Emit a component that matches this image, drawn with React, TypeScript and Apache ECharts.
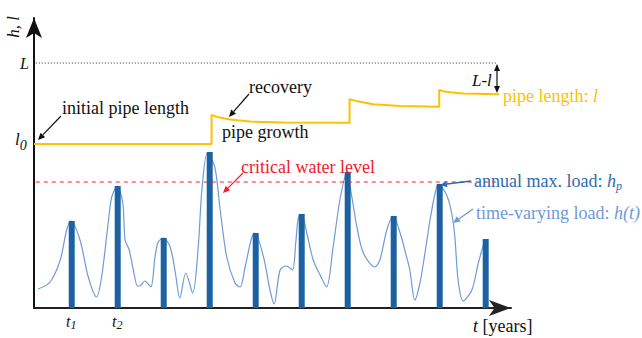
import React, { useEffect, useRef } from "react";
import * as echarts from "echarts";

// Time in years (46 px per year), heights in plot units (1 unit per px).
const yearT = [0.82, 1.82, 2.82, 3.82, 4.82, 5.82, 6.82, 7.82, 8.82, 9.82];
const annualMax = [87, 122, 70, 156, 75, 94, 136, 92, 124, 69];

// Continuous time-varying load h(t)
const loadT = [
  0.09, 0.35, 0.57, 0.71, 0.8, 1.0, 1.18, 1.36, 1.47, 1.62, 1.69, 1.81, 1.93, 1.98, 2.07, 2.16, 2.25, 2.3,
  2.41, 2.54, 2.63, 2.7, 2.81, 2.96, 3.07, 3.17, 3.3, 3.45, 3.57, 3.65, 3.77, 3.93, 4.04, 4.19, 4.37, 4.48,
  4.59, 4.73, 4.8, 4.99, 5.13, 5.22, 5.35, 5.49, 5.62, 5.69, 5.75, 5.82, 5.93, 6.07, 6.22, 6.36, 6.5, 6.65,
  6.8, 6.91, 7.02, 7.16, 7.41, 7.52, 7.67, 7.81, 7.96, 8.1, 8.17, 8.28, 8.39, 8.5, 8.61, 8.72, 8.79, 8.97,
  9.08, 9.15, 9.22, 9.33, 9.52, 9.66, 9.8,
];
const loadH = [
  19, 26, 48, 78, 87, 68, 31, 11, 31, 88, 111, 122, 105, 68, 58, 38, 22, 22,
  27, 21, 51, 66, 70, 61, 36, 10, 35, 15, 61, 118, 155, 141, 101, 51, 25, 21,
  41, 70, 75, 51, 18, 4, 38, 42, 38, 65, 91, 93, 75, 48, 33, 21, 60, 108,
  135, 111, 81, 55, 41, 48, 78, 92, 75, 51, 38, 8, 25, 55, 88, 115, 124, 113,
  95, 71, 28, 7, 18, 45, 68,
];

// Pipe length l(t): growth steps followed by recovery
const pipeT = [
  0, 3.86, 3.86, 3.95, 4.04, 4.26, 4.7, 5.41, 6.86, 6.86, 6.97, 7.09, 7.37, 7.96, 8.81, 8.81, 8.92, 9.04, 9.33, 10.11,
];
const pipeL = [
  164, 164, 193, 191.6, 190.5, 188.6, 186.4, 185.4, 185.2, 208.7, 207.4, 206.2, 203.8, 202, 201.3, 218, 216.6, 215.7, 214.4, 213.8,
];

const criticalLevel = 126;
const maxLength = 245;
const refLineT = [0.04, 10.07];

const SERIF = "'Liberation Serif', 'DejaVu Serif', serif";

type Part = { t: string; size: number; italic?: boolean; dy?: number };

const measureCtx = (() => {
  const c = document.createElement("canvas");
  return c.getContext("2d") as CanvasRenderingContext2D;
})();

function fontOf(p: Part) {
  return `${p.italic ? "italic " : ""}${p.size}px ${SERIF}`;
}

// A run of text pieces laid out left to right (regular, italic, subscripts)
function textRun(x: number, y: number, color: string, parts: Part[]) {
  const out: any[] = [];
  let cx = x;
  for (const p of parts) {
    const font = fontOf(p);
    out.push({
      type: "text",
      z: 60,
      x: cx,
      y: y + (p.dy || 0),
      style: { text: p.t, fill: color, font, align: "left", verticalAlign: "middle" },
    });
    measureCtx.font = font;
    cx += measureCtx.measureText(p.t).width;
  }
  return out;
}

function arrow(x1: number, y1: number, x2: number, y2: number, color: string, width = 1.2, head = 7, spread = 3.2) {
  const a = Math.atan2(y2 - y1, x2 - x1);
  const bx = x2 - head * Math.cos(a);
  const by = y2 - head * Math.sin(a);
  const px = -Math.sin(a) * spread;
  const py = Math.cos(a) * spread;
  return [
    { type: "line", z: 50, shape: { x1, y1, x2: bx, y2: by }, style: { stroke: color, lineWidth: width } },
    {
      type: "polygon",
      z: 50,
      shape: { points: [[x2, y2], [bx + px, by + py], [bx - px, by - py]] },
      style: { fill: color },
    },
  ];
}

export default function App() {
  const ref = useRef<HTMLDivElement>(null);

  useEffect(() => {
    if (!ref.current) return;
    const chart = echarts.init(ref.current, undefined, { renderer: "svg" });

    const ink = "#111";
    const yellow = "#FFC000";
    const red = "#F0202A";
    const darkBlue = "#1C62A2";
    const lightBlue = "#6E9AD8";
    const textBlue = "#2E6DAE";
    const S = 18;

    const graphic: any[] = [
      {
        type: "text",
        z: 60,
        x: 13,
        y: 27,
        rotation: Math.PI / 2,
        style: { text: "h, l", fill: ink, font: `italic 17px ${SERIF}`, align: "center", verticalAlign: "middle" },
      },
      ...textRun(20, 63, ink, [{ t: "L", size: 16, italic: true }]),
      ...textRun(15, 139, ink, [{ t: "l", size: 17, italic: true }, { t: "0", size: 14, italic: true, dy: 6 }]),
      ...textRun(66, 321, ink, [{ t: "t", size: 16, italic: true }, { t: "1", size: 12, italic: true, dy: 4 }]),
      ...textRun(112, 321, ink, [{ t: "t", size: 16, italic: true }, { t: "2", size: 12, italic: true, dy: 4 }]),
      ...textRun(473, 326, ink, [{ t: "t ", size: S, italic: true }, { t: "[years]", size: S }]),
      ...textRun(62, 108, ink, [{ t: "initial pipe length", size: S }]),
      ...textRun(249, 87, ink, [{ t: "recovery", size: S }]),
      ...textRun(222, 132, ink, [{ t: "pipe growth", size: S }]),
      ...textRun(241, 167, red, [{ t: "critical water level", size: S }]),
      ...textRun(503, 96, yellow, [{ t: "pipe length: ", size: S }, { t: "l", size: S, italic: true }]),
      ...textRun(472, 80, ink, [{ t: "L-l", size: 17, italic: true }]),
      ...textRun(474, 181, textBlue, [
        { t: "annual max. load: ", size: S },
        { t: "h", size: S, italic: true },
        { t: "p", size: 12, italic: true, dy: 5 },
      ]),
      ...textRun(476, 213, lightBlue, [{ t: "time-varying load: ", size: S }, { t: "h(t)", size: S, italic: true }]),
      ...arrow(61, 116, 38, 140, ink),
      ...arrow(249, 94, 229, 117, ink),
      ...arrow(243, 173, 223, 193, red),
      ...arrow(471, 181, 440, 185, textBlue, 1.5),
      ...arrow(473, 209, 453, 223, lightBlue, 1.3),
      ...arrow(497, 79, 497, 64, ink, 1.2, 7, 3),
      ...arrow(497, 79, 497, 93, ink, 1.2, 7, 3),
    ];

    chart.setOption({
      animation: false,
      grid: { left: 34, top: 18, width: 477, height: 290, containLabel: false },
      xAxis: {
        type: "value",
        min: 0,
        max: 10.37,
        axisLine: {
          show: true,
          onZero: false,
          lineStyle: { color: "#222", width: 2 },
          symbol: ["none", "arrow"],
          symbolSize: [12, 22],
        },
        axisTick: { show: false },
        axisLabel: { show: false },
        splitLine: { show: false },
      },
      yAxis: {
        type: "value",
        min: 0,
        max: 290,
        axisLine: {
          show: true,
          onZero: false,
          lineStyle: { color: ink, width: 2 },
          symbol: ["none", "arrow"],
          symbolSize: [12, 20],
        },
        axisTick: { show: false },
        axisLabel: { show: false },
        splitLine: { show: false },
      },
      series: [
        {
          name: "h(t)",
          type: "line",
          z: 2,
          smooth: 0.3,
          showSymbol: false,
          symbol: "none",
          lineStyle: { color: lightBlue, width: 1.2 },
          data: loadT.map((t, i) => [t, loadH[i]]),
        },
        {
          name: "hp",
          type: "bar",
          z: 3,
          barWidth: 6,
          itemStyle: { color: darkBlue },
          data: yearT.map((t, i) => [t, annualMax[i]]),
        },
        {
          name: "l",
          type: "line",
          z: 4,
          showSymbol: false,
          symbol: "none",
          lineStyle: { color: yellow, width: 2 },
          data: pipeT.map((t, i) => [t, pipeL[i]]),
        },
        {
          name: "critical",
          type: "line",
          z: 4,
          symbol: "none",
          lineStyle: { color: red, width: 1, type: [4, 4] },
          data: refLineT.map((t) => [t, criticalLevel]),
        },
        {
          name: "L",
          type: "line",
          z: 4,
          symbol: "none",
          lineStyle: { color: "#333", width: 1, type: [1, 2] },
          data: refLineT.map((t) => [t, maxLength]),
        },
      ],
      graphic,
    });

    return () => chart.dispose();
  }, []);

  return (
    <div
      ref={ref}
      style={{ position: "fixed", left: 0, top: 0, width: 642, height: 338, background: "#fff" }}
    />
  );
}
